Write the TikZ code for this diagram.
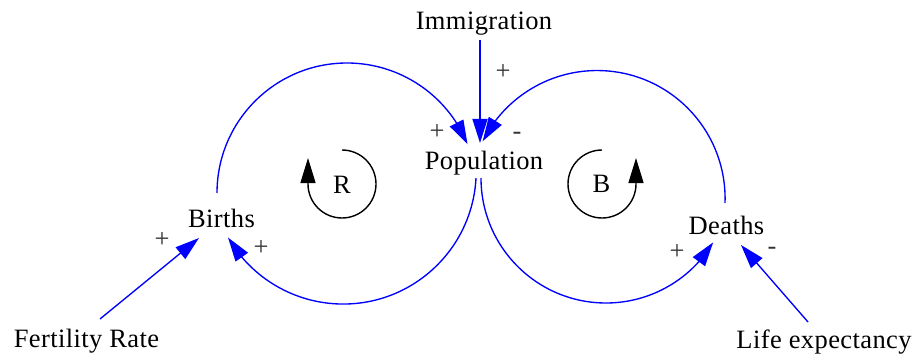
\documentclass[tikz,border=0pt]{standalone}
\usepackage{fontspec}
\setmainfont[LetterSpace=1.5]{Liberation Serif}
\usetikzlibrary{arrows.meta,bending}
\begin{document}
\begin{tikzpicture}[x=1pt,y=1pt,
  lbl/.style={inner sep=0pt, text height=18pt, text depth=6pt, font=\fontsize{26.5}{30}\selectfont},
  sgn/.style={inner sep=0pt, font=\fontsize{26.5}{30}\selectfont, text=black!80},
  loopletter/.style={inner sep=0pt, font=\fontsize{26.5}{30}\selectfont},
  link/.style={draw=blue, line width=1.35pt, -{Triangle[length=24pt,width=15pt]}},
  looparr/.style={draw=black, line width=1.4pt, -{Triangle[length=25pt,width=15pt]}}]
\useasboundingbox (0,0) rectangle (912,354);
% variables
\node[lbl] (immigration) at (484,330) {Immigration};
\node[lbl] (population) at (484,191) {Population};
\node[lbl] (births) at (221.5,133) {Births};
\node[lbl] (deaths) at (726.5,126) {Deaths};
\node[lbl] (fertility) at (86.5,13) {Fertility Rate};
\node[lbl] (life) at (824,12) {Life expectancy};
% links
\draw[link] ([shift={(-4,-16)}]immigration.center) -- ([shift={(-4,20)}]population.center);
\draw[link] ([shift={(-4.5,28)}]births.center) arc[start angle=180,end angle=22,radius=130];
\draw[link] ([shift={(-8,-15)}]population.center) arc[start angle=-3,end angle=-150,radius=133];
\draw[link] ([shift={(-1.5,25)}]deaths.center) arc[start angle=-2,end angle=153.4,radius=128];
\draw[link] ([shift={(-3,-15)}]population.center) arc[start angle=180,end angle=329,radius=125];
\draw[link] ([shift={(13.5,22)}]fertility.center) -- ([shift={(-22.5,-17)}]births.center);
\draw[link] ([shift={(-16,20)}]life.center) -- ([shift={(14.5,-17)}]deaths.center);
% polarities
\node[sgn] (s1) at (503,282) {+};
\node[sgn] (s2) at (437,222) {+};
\node[sgn] (s3) at (517,218) {-};
\node[sgn] (s4) at (162,114) {+};
\node[sgn] (s5) at (261,106) {+};
\node[sgn] (s6) at (677,102) {+};
\node[sgn] (s7) at (772,103) {-};
% loop identifiers
\node[loopletter] (R) at (342,169.5) {R};
\node[loopletter] (B) at (601.5,170) {B};
\draw[looparr] (342,204) arc[start angle=90,end angle=-180,radius=34] -- ++(0,26);
\draw[looparr] (602,204) arc[start angle=90,end angle=360,radius=34] -- ++(0,26);
\end{tikzpicture}
\end{document}
